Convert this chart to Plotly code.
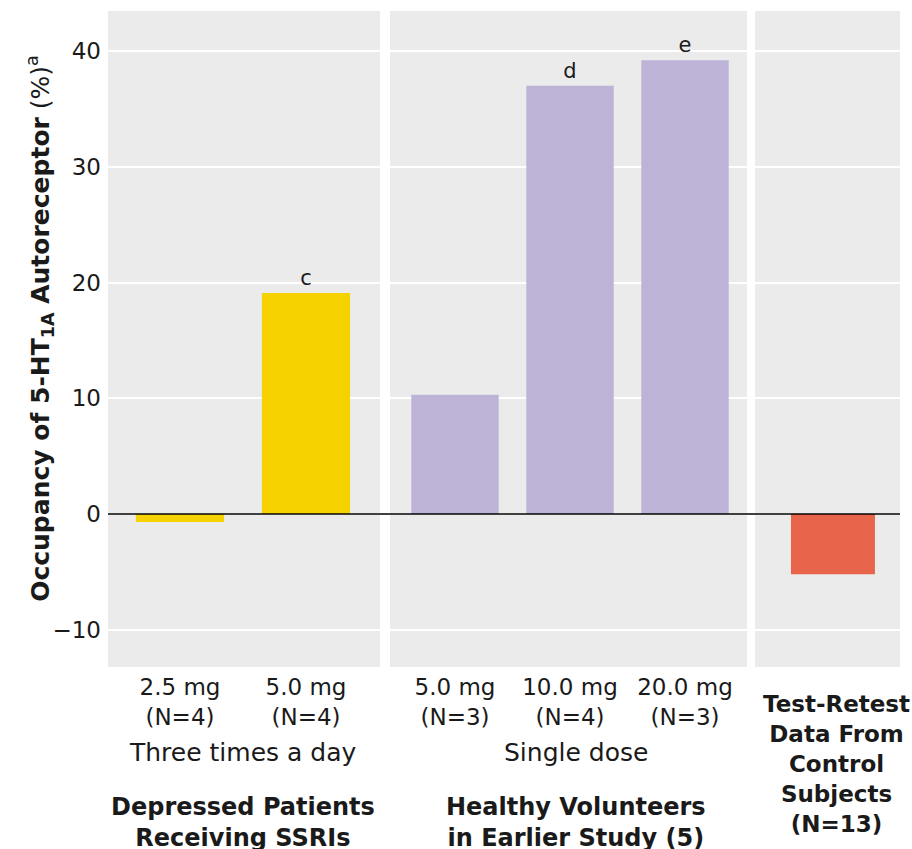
import plotly.graph_objects as go

# ---- data ----
dep_doses = ["2.5 mg<br>(N=4)", "5.0 mg<br>(N=4)"]
dep_values = [-0.7, 19.1]
dep_marks = ["", "c"]

hv_doses = ["5.0 mg<br>(N=3)", "10.0 mg<br>(N=4)", "20.0 mg<br>(N=3)"]
hv_values = [10.3, 37.0, 39.2]
hv_marks = ["", "d", "e"]

ctrl_cat = ["Test-Retest"]
ctrl_values = [-5.2]

yticks = [-10, 0, 10, 20, 30, 40]
ytick_labels = ["\u221210", "0", "10", "20", "30", "40"]

FONT = "DejaVu Sans"
TXT = "#1a1a1a"
BG = "#ebebeb"
YELLOW = "#f5d200"
PURPLE = "#bdb3d6"
RED = "#e8644a"

fig = go.Figure()
fig.add_trace(go.Bar(x=dep_doses, y=dep_values, marker_color=YELLOW, width=0.70,
                     text=dep_marks, textposition="outside", cliponaxis=False,
                     textfont=dict(size=21, color=TXT, family=FONT),
                     xaxis="x", yaxis="y"))
fig.add_trace(go.Bar(x=hv_doses, y=hv_values, marker_color=PURPLE, width=0.76,
                     text=hv_marks, textposition="outside", cliponaxis=False,
                     textfont=dict(size=21, color=TXT, family=FONT),
                     xaxis="x2", yaxis="y2"))
fig.add_trace(go.Bar(x=ctrl_cat, y=ctrl_values, marker_color=RED, width=0.73,
                     xaxis="x3", yaxis="y3"))
fig.update_traces(marker_line_width=0, showlegend=False)

yrange = [-13.22, 43.46]
common_y = dict(range=yrange, tickvals=yticks, showgrid=True, gridcolor="white",
                gridwidth=2, zeroline=False, showline=False, ticks="")
xcommon = dict(showgrid=False, zeroline=False, showline=False, ticks="",
               ticklabelstandoff=4,
               tickfont=dict(size=23, color=TXT, family=FONT), type="category")

fig.update_layout(
    width=912, height=849,
    margin=dict(l=108, r=12, t=11, b=182),
    paper_bgcolor="white", plot_bgcolor=BG,
    font=dict(family=FONT, color=TXT),
    xaxis=dict(domain=[0, 0.3434], range=[-0.571, 1.587], anchor="y", **xcommon),
    xaxis2=dict(domain=[0.3561, 0.8068], range=[-0.565, 2.539], anchor="y2", **xcommon),
    xaxis3=dict(domain=[0.8169, 1.0], range=[-0.678, 0.583], anchor="y3",
                showticklabels=False, **xcommon),
    yaxis=dict(anchor="x", ticktext=ytick_labels, ticklabelstandoff=6,
               tickfont=dict(size=23, color=TXT, family=FONT),
               **common_y),
    yaxis2=dict(anchor="x2", matches="y", showticklabels=False, **common_y),
    yaxis3=dict(anchor="x3", matches="y", showticklabels=False, **common_y),
    bargap=0.3,
)

# zero line across all panels
fig.add_shape(type="line", xref="paper", yref="y", x0=0, x1=1, y0=0, y1=0,
              line=dict(color="black", width=1.5))

# y-axis title
fig.add_annotation(text="<b>Occupancy of 5-HT<sub>1A</sub> Autoreceptor</b> (%)<sup>a</sup>",
                   textangle=-90, xref="paper", x=-0.0859, yref="paper", y=0.517,
                   xanchor="center", yanchor="middle", showarrow=False,
                   font=dict(size=25, color=TXT, family=FONT))

ann_font = dict(size=25, color=TXT, family=FONT)
bold_font = dict(size=24, color=TXT, family=FONT)
fig.add_annotation(text="Three times a day", xref="x", x=0.5, yref="paper", y=-0.131,
                   showarrow=False, font=ann_font, yanchor="middle")
fig.add_annotation(text="Single dose", xref="x2", x=1.05, yref="paper", y=-0.131,
                   showarrow=False, font=ann_font, yanchor="middle")
fig.add_annotation(text="<b>Depressed Patients<br>Receiving SSRIs</b>", xref="x", x=0.5,
                   yref="paper", y=-0.189, yanchor="top", showarrow=False, font=bold_font)
fig.add_annotation(text="<b>Healthy Volunteers<br>in Earlier Study (5)</b>", xref="x2", x=1.05,
                   yref="paper", y=-0.189, yanchor="top", showarrow=False, font=bold_font)
fig.add_annotation(text="<b>Test-Retest<br>Data From<br>Control<br>Subjects<br>(N=13)</b>",
                   xref="x3", x=0.03, yref="paper", y=-0.0335, yanchor="top",
                   showarrow=False, font=dict(size=23, color=TXT, family=FONT))

fig.write_html("out.html")
